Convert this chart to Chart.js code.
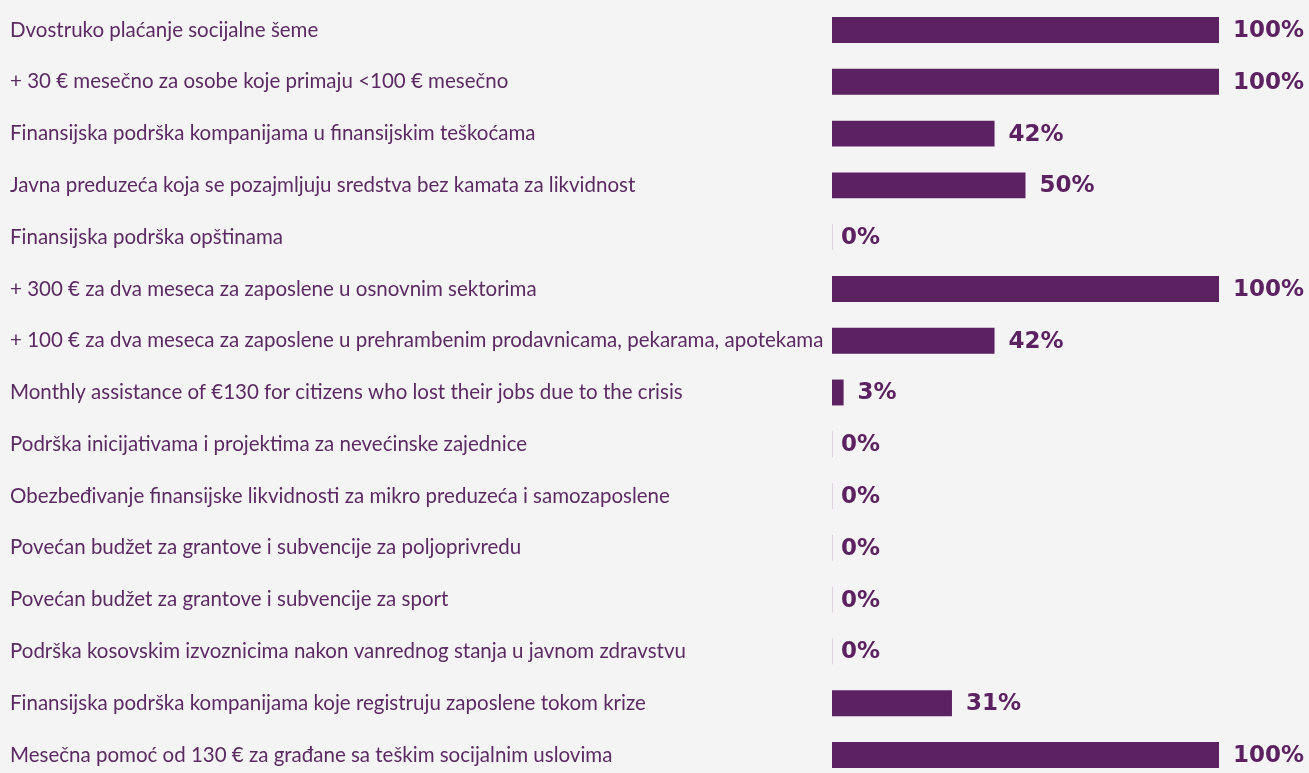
<!DOCTYPE html>
<html>
<head>
<meta charset="utf-8">
<script src="https://cdn.jsdelivr.net/npm/chart.js@4/dist/chart.umd.min.js"></script>
<style>
  html,body{margin:0;padding:0;background:#f4f4f4;}
  #wrap{width:1309px;height:773px;position:relative;}
</style>
</head>
<body>
<div id="wrap"><canvas id="c"></canvas></div>
<script>
// categories and values (percent)
const CATEGORIES = [
  "Dvostruko plaćanje socijalne šeme",
  "+ 30 € mesečno za osobe koje primaju <100 € mesečno",
  "Finansijska podrška kompanijama u finansijskim teškoćama",
  "Javna preduzeća koja se pozajmljuju sredstva bez kamata za likvidnost",
  "Finansijska podrška opštinama",
  "+ 300 € za dva meseca za zaposlene u osnovnim sektorima",
  "+ 100 € za dva meseca za zaposlene u prehrambenim prodavnicama, pekarama, apotekama",
  "Monthly assistance of €130 for citizens who lost their jobs due to the crisis",
  "Podrška inicijativama i projektima za nevećinske zajednice",
  "Obezbeđivanje finansijske likvidnosti za mikro preduzeća i samozaposlene",
  "Povećan budžet za grantove i subvencije za poljoprivredu",
  "Povećan budžet za grantove i subvencije za sport",
  "Podrška kosovskim izvoznicima nakon vanrednog stanja u javnom zdravstvu",
  "Finansijska podrška kompanijama koje registruju zaposlene tokom krize",
  "Mesečna pomoć od 130 € za građane sa teškim socijalnim uslovima"
];
const VALUES = [100, 100, 42, 50, 0, 100, 42, 3, 0, 0, 0, 0, 0, 31, 100];

const PURPLE = "#5c2160";

// value labels + faint mark for zero bars
const valueLabels = {
  id: "valueLabels",
  afterDatasetsDraw(chart){
    const ctx = chart.ctx;
    const meta = chart.getDatasetMeta(0);
    ctx.save();
    meta.data.forEach((bar, i) => {
      const v = VALUES[i];
      if (v === 0) {
        ctx.strokeStyle = "#ddd2de";
        ctx.lineWidth = 1;
        ctx.beginPath();
        ctx.moveTo(bar.base + 0.5, bar.y - bar.height/2);
        ctx.lineTo(bar.base + 0.5, bar.y + bar.height/2);
        ctx.stroke();
      }
      ctx.fillStyle = PURPLE;
      ctx.font = "bold 23px 'DejaVu Sans', sans-serif";
      ctx.textAlign = "left";
      ctx.textBaseline = "middle";
      const x = v === 0 ? bar.x + 9 : bar.x + 14;
      ctx.fillText(v + "%", x, bar.y + 1);
    });
    ctx.restore();
  }
};

new Chart(document.getElementById("c"), {
  type: "bar",
  data: {
    labels: CATEGORIES,
    datasets: [{
      data: VALUES,
      backgroundColor: PURPLE,
      borderWidth: 0,
      categoryPercentage: 1,
      barPercentage: 0.5,
      clip: false
    }]
  },
  options: {
    indexAxis: "y",
    responsive: true,
    maintainAspectRatio: false,
    animation: false,
    layout: { padding: { left: 10, right: 90, top: 30, bottom: 18 } },
    plugins: { legend: { display: false }, tooltip: { enabled: false } },
    scales: {
      x: { min: 0, max: 100, display: false },
      y: {
        offset: false,
        grid: { display: false },
        border: { display: false },
        ticks: {
          crossAlign: "far",
          padding: 0,
          autoSkip: false,
          color: "#5c2a63",
          font: { family: "Lato, 'Open Sans', sans-serif", size: 20.5 }
        },
        afterFit(s){ s.width = 822; }
      }
    }
  },
  plugins: [valueLabels]
});
</script>
</body>
</html>
